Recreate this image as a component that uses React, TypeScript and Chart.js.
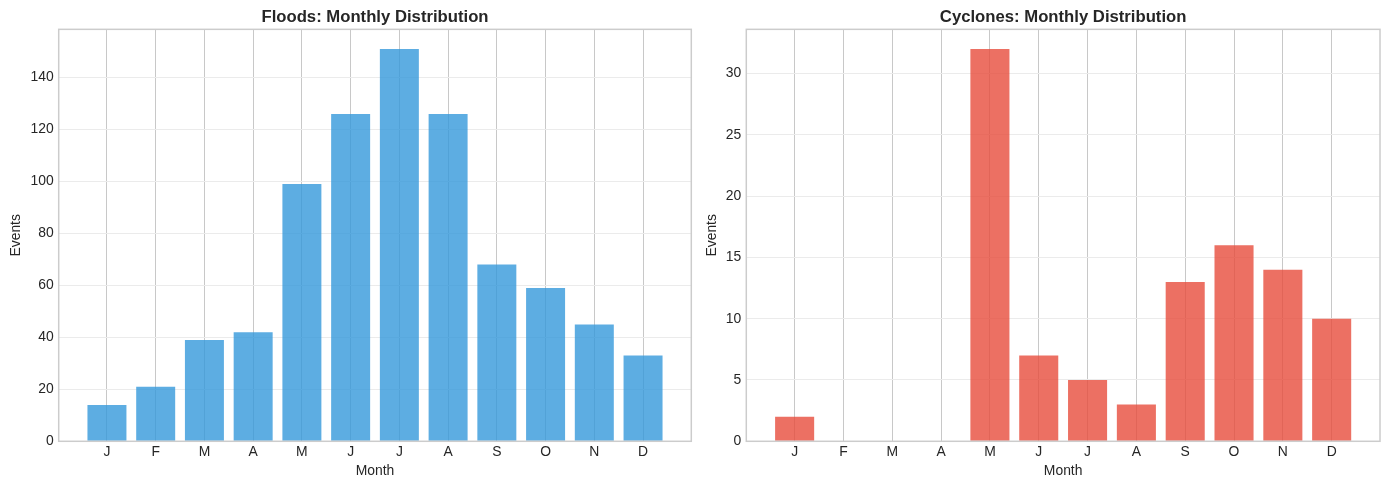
import React, { useEffect, useRef } from 'react';
import { Chart, registerables } from 'chart.js';

Chart.register(...registerables);

// month initials shown under each bar
const months = ['J', 'F', 'M', 'A', 'M', 'J', 'J', 'A', 'S', 'O', 'N', 'D'];
const floodEvents = [14, 21, 39, 42, 99, 126, 151, 126, 68, 59, 45, 33];
const cycloneEvents = [2, 0, 0, 0, 32, 7, 5, 3, 13, 16, 14, 10];

const FONT = "'Liberation Sans', Arial, sans-serif";
const TEXT = '#262626';

// draws the light box round the plot area (matplotlib spines)
const frame = {
  id: 'frame',
  afterDraw(chart: any) {
    const { ctx, chartArea: a } = chart;
    ctx.save();
    ctx.strokeStyle = '#cccccc';
    ctx.lineWidth = 1.5;
    ctx.strokeRect(a.left, a.top, a.right - a.left, a.bottom - a.top);
    ctx.restore();
  },
};

type PanelProps = {
  title: string;
  values: number[];
  color: string;
  step: number;
  left: number;
  width: number;
  yWidth: number;
  rightPad: number;
  yTitlePad: number;
};

const Panel = ({ title, values, color, step, left, width, yWidth, rightPad, yTitlePad }: PanelProps) => {
  const canvasRef: any = useRef<HTMLCanvasElement>(null);

  useEffect(() => {
    const ctx: any = canvasRef.current && canvasRef.current.getContext('2d');
    const top = Math.max(...values) * 1.05;
    // bars span -0.4..11.4, plus 5% margin like matplotlib
    const span = months.length - 1 + 0.8;
    const xMin = -0.4 - span * 0.05;
    const xMax = months.length - 1 + 0.4 + span * 0.05;

    const config: any = {
      type: 'bar',
      data: {
        datasets: [
          {
            data: values.map((v, i) => ({ x: i, y: v })),
            backgroundColor: color,
            borderWidth: 0,
            barPercentage: 0.8,
            categoryPercentage: 1,
          },
        ],
      },
      options: {
        animation: false,
        responsive: false,
        layout: { padding: { left: 0, right: rightPad, top: 0, bottom: 0 } },
        plugins: {
          legend: { display: false },
          tooltip: { enabled: false },
          title: {
            display: true,
            text: title,
            fullSize: false,
            color: TEXT,
            font: { family: FONT, size: 16.7, weight: 'bold', lineHeight: 1.2 },
            padding: { top: 7, bottom: 2.3 },
          },
        },
        scales: {
          x: {
            type: 'linear',
            offset: false,
            min: xMin,
            max: xMax,
            afterBuildTicks: (scale: any) => {
              scale.ticks = months.map((_, i) => ({ value: i }));
            },
            afterFit: (scale: any) => {
              scale.height = 47.7;
            },
            ticks: {
              autoSkip: false,
              maxRotation: 0,
              padding: 3,
              color: TEXT,
              font: { family: FONT, size: 13.9 },
              callback: (v: number) => months[v],
            },
            grid: { color: '#c8c8c8', lineWidth: 1, drawTicks: false, offset: false },
            border: { display: false },
            title: {
              display: true,
              text: 'Month',
              color: TEXT,
              font: { family: FONT, size: 13.9, lineHeight: 1.2 },
              padding: { top: 0, bottom: 9.6 },
            },
          },
          y: {
            min: 0,
            max: top,
            afterFit: (scale: any) => {
              scale.width = yWidth;
            },
            ticks: {
              stepSize: step,
              includeBounds: false,
              padding: 5,
              color: TEXT,
              font: { family: FONT, size: 13.9 },
            },
            grid: { color: '#ebebeb', lineWidth: 1, drawTicks: false },
            border: { display: false },
            title: {
              display: true,
              text: 'Events',
              color: TEXT,
              font: { family: FONT, size: 13.9, lineHeight: 1.2 },
              padding: { top: yTitlePad, bottom: 0 },
            },
          },
        },
      },
      plugins: [frame],
    };

    const chart = new Chart(ctx, config);
    return () => {
      chart.destroy();
    };
  }, []);

  return (
    <canvas
      ref={canvasRef}
      width={width}
      height={489}
      style={{ position: 'absolute', left, top: 0, width, height: 489 }}
    />
  );
};

const App = () => {
  return (
    <div style={{ position: 'absolute', left: 0, top: 0, width: 1389, height: 489, background: '#fff' }}>
      <Panel
        title="Floods: Monthly Distribution"
        values={floodEvents}
        color="rgba(52, 152, 219, 0.8)"
        step={20}
        left={0}
        width={700}
        yWidth={58.7}
        rightPad={8.7}
        yTitlePad={7.6}
      />
      <Panel
        title="Cyclones: Monthly Distribution"
        values={cycloneEvents}
        color="rgba(231, 76, 60, 0.8)"
        step={5}
        left={700}
        width={689}
        yWidth={46.3}
        rightPad={9}
        yTitlePad={3.4}
      />
    </div>
  );
};

export default App;
